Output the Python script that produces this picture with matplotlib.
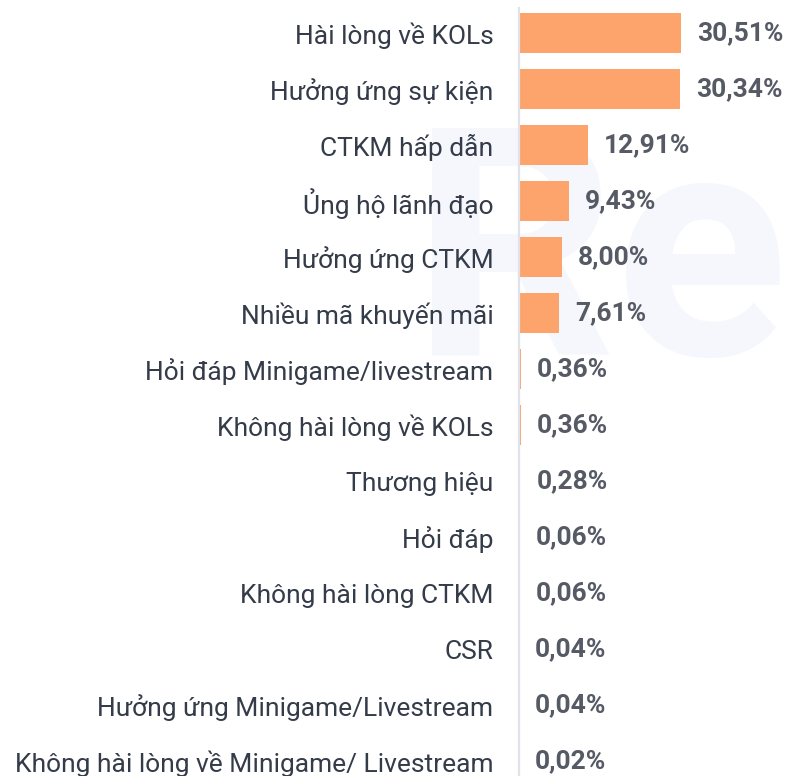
import numpy as np
import matplotlib
matplotlib.use('Agg')
import matplotlib.pyplot as plt

plt.rcParams['font.family'] = ['Roboto', 'DejaVu Sans']

categories = ['Hài lòng về KOLs', 'Hưởng ứng sự kiện', 'CTKM hấp dẫn',
              'Ủng hộ lãnh đạo', 'Hưởng ứng CTKM', 'Nhiều mã khuyến mãi',
              'Hỏi đáp Minigame/livestream', 'Không hài lòng về KOLs',
              'Thương hiệu', 'Hỏi đáp', 'Không hài lòng CTKM', 'CSR',
              'Hưởng ứng Minigame/Livestream',
              'Không hài lòng về Minigame/ Livestream']
values = [30.51, 30.34, 12.91, 9.43, 8.00, 7.61, 0.36, 0.36, 0.28,
          0.06, 0.06, 0.04, 0.04, 0.02]

W, H = 790, 776
fig = plt.figure(figsize=(W / 100, H / 100), dpi=100)

ax = fig.add_axes([519 / W, -13 / H, (W - 519) / W, 784 / H])
ax.patch.set_alpha(0)

# chu nen "Re" mo, phia sau cac thanh
ax.text(0.76, 0.655, 'Re', transform=fig.transFigure, fontsize=230,
        fontweight='bold', color='#f5f7fc', ha='center', va='center',
        zorder=0)

y = np.arange(len(categories))
ax.barh(y, values, height=0.73, color='#fca46b', zorder=2)

ax.set_xlim(0, 51)
ax.set_ylim(len(categories) - 0.5, -0.5)

for yi, v in zip(y, values):
    ax.text(v + 3.0, yi, f'{v:.2f}%'.replace('.', ','), va='center',
            ha='left', fontsize=19, fontweight='bold',
            color='#555a65', zorder=3)

ax.set_yticks(y)
ax.set_yticklabels(categories, fontsize=19, color='#343b49')
ax.tick_params(axis='y', length=0, pad=18.5)
ax.set_xticks([])

for s in ['top', 'right', 'bottom']:
    ax.spines[s].set_visible(False)
ax.spines['left'].set_color('#dfe2e8')
ax.spines['left'].set_linewidth(1.6)
ax.spines['left'].set_bounds(len(categories) - 0.5, -0.45)

fig.savefig('out.png', dpi=100)
